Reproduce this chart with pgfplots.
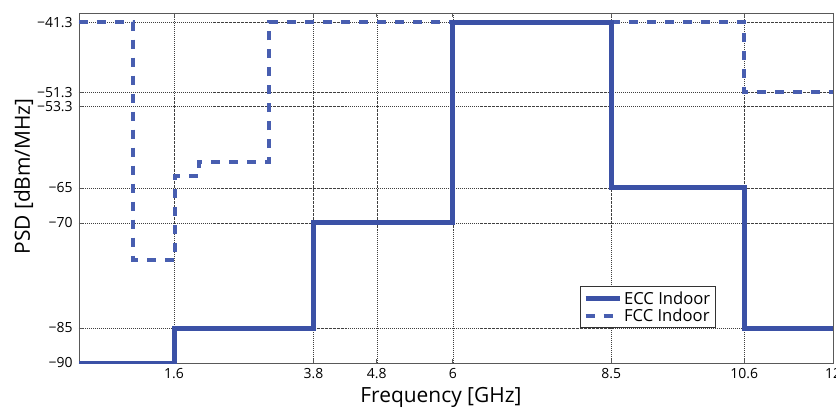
\documentclass[border=0pt]{standalone}
\usepackage{fontspec}
\setmainfont{Open Sans}
\usepackage{pgfplots}
\pgfplotsset{compat=1.18}
\definecolor{ecc}{RGB}{59,81,166}
\definecolor{fcc}{RGB}{72,94,176}
\begin{document}
\begin{tikzpicture}
\useasboundingbox (-79bp,-46bp) rectangle (757bp,363bp);
\begin{axis}[
 scale only axis, width=754bp, height=350bp,
 xmin=0.1, xmax=12, ymin=-90, ymax=-40,
 xtick={1.6,3.8,4.8,6,8.5,10.6,12},
 xticklabels={1.6,3.8,4.8,6,8.5,10.6,12},
 ytick={-90,-85,-70,-65,-53.3,-51.3,-41.3},
 yticklabels={−90,−85,−70,−65,−53.3,−51.3,−41.3},
 grid=major,
 major grid style={black!75, line width=0.5pt, dash pattern=on 1.5pt off 1pt on 0.5pt off 1pt},
 tick align=inside, major tick length=4bp,
 axis line style={black!65, line width=0.8pt},
 tick style={black!65, line width=0.8pt},
 xticklabel style={text=black, scale=1.4},
 yticklabel style={text=black, scale=1.4, xshift=-1bp},
 xlabel={Frequency [GHz]}, ylabel={PSD [dBm/MHz]},
 label style={font=\fontsize{21}{24}\selectfont, text=black},
 xlabel style={at={(axis description cs:0.48,0)}, anchor=center, yshift=-34bp},
 ylabel style={at={(axis description cs:-0.0736,0.533)}, anchor=center},
 legend style={at={(0.664,0.1)}, anchor=south west, draw=black!80, line width=0.8pt,
   font=\fontsize{16.7}{20}\selectfont, inner xsep=3pt, inner ysep=3pt, row sep=-1pt,
   /tikz/every even column/.append style={column sep=0pt}},
 legend cell align=left,
 legend image code/.code={\draw[#1] (0bp,0bp) -- (34bp,0bp);},
 reverse legend,
]
\addplot[fcc, line width=4bp, dash pattern=on 9bp off 9bp] coordinates {
 (0.1,-41.3) (0.96,-41.3) (0.96,-75.3) (1.61,-75.3) (1.61,-63.3) (1.99,-63.3)
 (1.99,-61.3) (3.1,-61.3) (3.1,-41.3) (10.6,-41.3) (10.6,-51.3) (12,-51.3)};
\addlegendentry{FCC Indoor}
\addplot[ecc, line width=5bp, line join=miter] coordinates {
 (0.1,-90) (1.6,-90) (1.6,-85) (3.8,-85) (3.8,-70) (6,-70) (6,-41.3)
 (8.5,-41.3) (8.5,-65) (10.6,-65) (10.6,-85) (12,-85)};
\addlegendentry{ECC Indoor}
\end{axis}
\end{tikzpicture}
\end{document}
